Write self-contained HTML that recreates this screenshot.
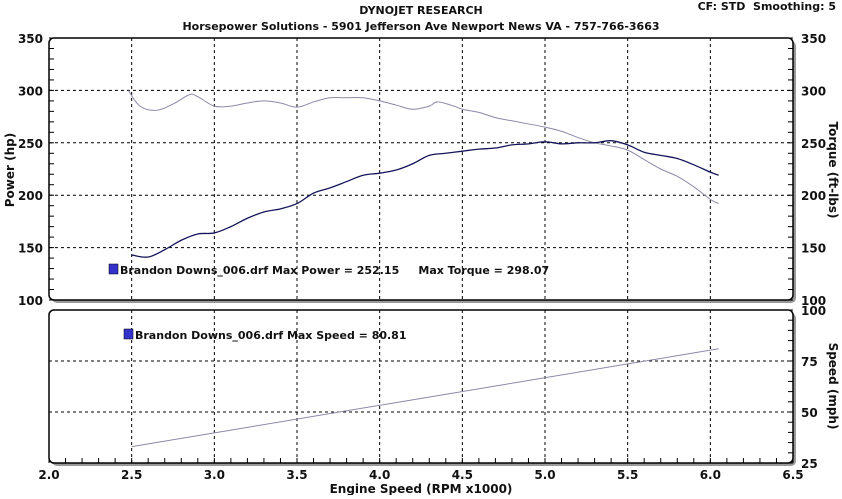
<!DOCTYPE html>
<html><head><meta charset="utf-8"><style>
body{margin:0;background:#fff;width:842px;height:495px;overflow:hidden;font-family:"DejaVu Sans","Liberation Sans",sans-serif;}
svg text{font-family:"DejaVu Sans","Liberation Sans",sans-serif;font-weight:bold;fill:#111;white-space:pre;}
</style></head><body>
<svg id="c" width="842" height="495">
<text x="421" y="14" font-size="11" text-anchor="middle">DYNOJET RESEARCH</text>
<text x="421" y="30" font-size="11" text-anchor="middle">Horsepower Solutions - 5901 Jefferson Ave Newport News VA - 757-766-3663</text>
<text x="836" y="10" font-size="11" text-anchor="end">CF: STD  Smoothing: 5</text>
<g id="g"></g>
</svg>
<script>
const torqueRpm=[2.48,2.55,2.65,2.75,2.85,2.9,3.0,3.1,3.2,3.3,3.4,3.5,3.6,3.7,3.8,3.9,4.0,4.1,4.2,4.3,4.35,4.45,4.5,4.6,4.7,4.8,4.9,5.0,5.1,5.2,5.3,5.4,5.5,5.6,5.7,5.8,5.9,6.0,6.05];
const torqueVals=[300,285,281,287,296,294,285,285,288,290,288,284,289,293,293,293,290,286,282,285,289,285,282,279,274,271,268,265,261,255,250,247,243,234,225,218,208,196,192];
const powerRpm=[2.5,2.6,2.7,2.8,2.9,3.0,3.1,3.2,3.3,3.4,3.5,3.6,3.7,3.8,3.9,4.0,4.1,4.2,4.3,4.4,4.5,4.6,4.7,4.8,4.9,5.0,5.1,5.2,5.3,5.4,5.5,5.6,5.7,5.8,5.9,6.0,6.05];
const powerVals=[143,141,148,157,163,164,170,178,184,187,192,202,207,213,219,221,224,230,238,240,242,244,245,248,249,251,249,250,250,252,248,241,238,235,229,222,219];
const speedRpm=[2.5,6.05];
const speedVals=[33,81];
const xTicks=[2.0,2.5,3.0,3.5,4.0,4.5,5.0,5.5,6.0,6.5];
const topTicks=[100,150,200,250,300,350];
const botTicks=[25,50,75,100];

const NS="http://www.w3.org/2000/svg",g=document.getElementById('g');
const X0=49,X1=793;
const xs=v=>X0+(v-2)/4.5*(X1-X0);
const T0=38,T1=300,ys=v=>T1-(v-100)/250*(T1-T0);
const B0=310,B1=463,yb=v=>B1-(v-25)/75*(B1-B0);
function el(t,a,p){const e=document.createElementNS(NS,t);for(const k in a)e.setAttribute(k,a[k]);(p||g).appendChild(e);return e;}
function panel(y0,y1,name){
  const r=el('rect',{x:X0+3,y:y0+3,width:X1-X0,height:y1-y0,rx:5,fill:'#999'});
  
  const p=el('rect',{x:X0,y:y0,width:X1-X0,height:y1-y0,rx:5,fill:'#fff',stroke:'#000','stroke-width':1.5});
  
}
panel(T0,T1,'power-torque-panel');panel(B0,B1,'speed-panel');
xTicks.slice(1,-1).forEach(v=>{[[T0,T1],[B0,B1]].forEach(([a,b])=>{
  const l=el('line',{x1:xs(v),x2:xs(v),y1:a,y2:b,stroke:'#000','stroke-dasharray':'3,3'});
  });});
topTicks.slice(1,-1).forEach(v=>{const l=el('line',{x1:X0,x2:X1,y1:ys(v),y2:ys(v),stroke:'#000','stroke-dasharray':'3,3'});
  });
botTicks.slice(1,-1).forEach(v=>{const l=el('line',{x1:X0,x2:X1,y1:yb(v),y2:yb(v),stroke:'#000','stroke-dasharray':'3,3'});
  });
for(let v=100;v<=350;v+=10){el('line',{x1:X0,x2:X0+5,y1:ys(v),y2:ys(v),stroke:'#000'});el('line',{x1:X1,x2:X1-5,y1:ys(v),y2:ys(v),stroke:'#000'});}
for(let v=25;v<=100;v+=5){el('line',{x1:X1,x2:X1-5,y1:yb(v),y2:yb(v),stroke:'#000'});}
for(let v=2;v<=6.5;v+=0.1){el('line',{x1:xs(v),x2:xs(v),y1:B1,y2:B1-5,stroke:'#000'});}
topTicks.forEach(v=>{const t=el('text',{x:X0-6,y:ys(v)+5,'font-size':12,'text-anchor':'end'});t.textContent=v;
  
  const t2=el('text',{x:X1+8,y:ys(v)+5,'font-size':12});t2.textContent=v;
  });
botTicks.forEach(v=>{const t=el('text',{x:X1+8,y:yb(v)+5,'font-size':12});t.textContent=v;
  });
xTicks.forEach(v=>{const t=el('text',{x:xs(v),y:479,'font-size':12,'text-anchor':'middle'});t.textContent=v.toFixed(1);
  });
let t=el('text',{x:421,y:493,'font-size':12,'text-anchor':'middle'});t.textContent='Engine Speed (RPM x1000)';

t=el('text',{x:0,y:0,'font-size':12,'text-anchor':'middle',transform:'translate(14,170) rotate(-90)'});t.textContent='Power (hp)';

t=el('text',{x:0,y:0,'font-size':12,'text-anchor':'middle',transform:'translate(829,170) rotate(90)'});t.textContent='Torque (ft-lbs)';

t=el('text',{x:0,y:0,'font-size':12,'text-anchor':'middle',transform:'translate(829,386) rotate(90)'});t.textContent='Speed (mph)';

function line(xa,ya,fy,col,w,name){
  const P=xa.map((x,i)=>[xs(x),fy(ya[i])]);
  let d='M'+P[0][0]+','+P[0][1];
  for(let i=0;i<P.length-1;i++){const p0=P[i-1]||P[i],p1=P[i],p2=P[i+1],p3=P[i+2]||p2;
    d+=' C'+(p1[0]+(p2[0]-p0[0])/6)+','+(p1[1]+(p2[1]-p0[1])/6)+' '+(p2[0]-(p3[0]-p1[0])/6)+','+(p2[1]-(p3[1]-p1[1])/6)+' '+p2[0]+','+p2[1];}
  const p=el('path',{d:d,fill:'none',stroke:col,'stroke-width':w});
  }
line(torqueRpm,torqueVals,ys,'#8a8aa8',1,'torque-line');
line(powerRpm,powerVals,ys,'#14145a',1.3,'power-line');
line(speedRpm,speedVals,yb,'#8a8aa8',1,'speed-line');
function legend(x,y,txt,name){const r=el('rect',{x:x,y:y-9,width:9,height:10,fill:'#3333cc',stroke:'#000','stroke-width':0.5});
  
  const tt=el('text',{x:x+11,y:y+1,'font-size':11});tt.textContent=txt;}
legend(109,273,'Brandon Downs_006.drf Max Power = 252.15     Max Torque = 298.07','power-legend');
legend(124,338,'Brandon Downs_006.drf Max Speed = 80.81','speed-legend');
</script>
</body></html>
